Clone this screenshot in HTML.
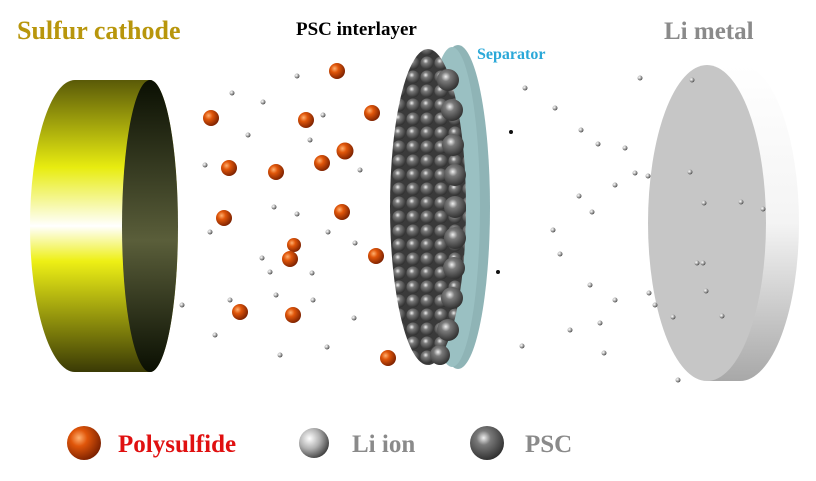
<!DOCTYPE html>
<html><head><meta charset="utf-8"><style>
html,body{margin:0;padding:0;background:#fff;width:816px;height:481px;overflow:hidden}
svg{display:block}
text{font-family:"Liberation Serif",serif;font-weight:bold}
</style></head><body>
<svg width="816" height="481" viewBox="0 0 816 481">
<defs>
<linearGradient id="yel" x1="0" y1="0" x2="0" y2="1">
<stop offset="0" stop-color="#5a5a08"/><stop offset="0.3" stop-color="#e8ec10"/><stop offset="0.5" stop-color="#ffffff"/><stop offset="0.62" stop-color="#eef015"/><stop offset="1" stop-color="#3a3a05"/></linearGradient>
<linearGradient id="dk" x1="0" y1="0" x2="0" y2="1">
<stop offset="0" stop-color="#0a0f02"/><stop offset="0.55" stop-color="#5a5e3a"/><stop offset="1" stop-color="#0a0f02"/></linearGradient>
<linearGradient id="edge" x1="0" y1="0" x2="0" y2="1">
<stop offset="0" stop-color="#ffffff"/><stop offset="0.5" stop-color="#f4f4f4"/><stop offset="1" stop-color="#a8a8a8"/></linearGradient>
<radialGradient id="org" cx="0.35" cy="0.35" r="0.7"><stop offset="0" stop-color="#ffb070"/><stop offset="0.35" stop-color="#e0560a"/><stop offset="1" stop-color="#7a2000"/></radialGradient>
<radialGradient id="gry" cx="0.35" cy="0.35" r="0.7"><stop offset="0" stop-color="#ffffff"/><stop offset="0.5" stop-color="#b0b0b0"/><stop offset="1" stop-color="#404040"/></radialGradient>
<radialGradient id="psc" cx="0.4" cy="0.35" r="0.7"><stop offset="0" stop-color="#f0f0f0"/><stop offset="0.3" stop-color="#7a7a7a"/><stop offset="1" stop-color="#2a2a2a"/></radialGradient>
<pattern id="balls" width="14" height="14" patternUnits="userSpaceOnUse"><rect width="14" height="14" fill="#3a3a3a"/><circle cx="7" cy="7" r="6.5" fill="url(#psc)"/></pattern>
</defs>
<path d="M75,80 L150,80 A28,146 0 0 1 150,372 L75,372 A45,146 0 0 1 75,80 Z" fill="url(#yel)"/>
<ellipse cx="150" cy="226" rx="28" ry="146" fill="url(#dk)"/>
<path d="M707,65 L740,65 A59,158 0 0 1 740,381 L707,381 Z" fill="url(#edge)"/>
<ellipse cx="707" cy="223" rx="59" ry="158" fill="#c6c6c6"/>
<ellipse cx="458" cy="207" rx="32" ry="162" fill="#8fb4b6"/>
<ellipse cx="452" cy="207" rx="28" ry="160" fill="#9ac0c2"/>
<ellipse cx="428" cy="207" rx="38" ry="158" fill="url(#balls)"/>
<g fill="url(#psc)">
<circle cx="448" cy="80" r="11"/><circle cx="452" cy="110" r="11"/><circle cx="453" cy="145" r="11"/><circle cx="455" cy="175" r="11"/><circle cx="455" cy="207" r="11"/><circle cx="455" cy="238" r="11"/><circle cx="454" cy="268" r="11"/><circle cx="452" cy="298" r="11"/><circle cx="448" cy="330" r="11"/><circle cx="440" cy="355" r="10"/>
</g>
<g fill="url(#org)">
<circle cx="337" cy="71" r="8"/><circle cx="211" cy="118" r="8"/><circle cx="306" cy="120" r="8"/><circle cx="372" cy="113" r="8"/><circle cx="229" cy="168" r="8"/><circle cx="322" cy="163" r="8"/><circle cx="345" cy="151" r="8.5"/><circle cx="276" cy="172" r="8"/><circle cx="224" cy="218" r="8"/><circle cx="342" cy="212" r="8"/><circle cx="294" cy="245" r="7"/><circle cx="290" cy="259" r="8"/><circle cx="376" cy="256" r="8"/><circle cx="240" cy="312" r="8"/><circle cx="293" cy="315" r="8"/><circle cx="388" cy="358" r="8"/>
</g>
<g fill="url(#gry)">
<circle cx="232" cy="93" r="2.5"/><circle cx="297" cy="76" r="2.5"/><circle cx="263" cy="102" r="2.5"/><circle cx="323" cy="115" r="2.5"/><circle cx="310" cy="140" r="2.5"/><circle cx="248" cy="135" r="2.5"/><circle cx="205" cy="165" r="2.5"/><circle cx="360" cy="170" r="2.5"/><circle cx="182" cy="305" r="2.5"/><circle cx="274" cy="207" r="2.5"/><circle cx="297" cy="214" r="2.5"/><circle cx="210" cy="232" r="2.5"/><circle cx="355" cy="243" r="2.5"/><circle cx="328" cy="232" r="2.5"/><circle cx="270" cy="272" r="2.5"/><circle cx="276" cy="295" r="2.5"/><circle cx="313" cy="300" r="2.5"/><circle cx="215" cy="335" r="2.5"/><circle cx="230" cy="300" r="2.5"/><circle cx="280" cy="355" r="2.5"/><circle cx="327" cy="347" r="2.5"/><circle cx="354" cy="318" r="2.5"/><circle cx="312" cy="273" r="2.5"/><circle cx="262" cy="258" r="2.5"/>
<circle cx="525" cy="88" r="2.5"/><circle cx="555" cy="108" r="2.5"/><circle cx="581" cy="130" r="2.5"/><circle cx="598" cy="144" r="2.5"/><circle cx="625" cy="148" r="2.5"/><circle cx="615" cy="185" r="2.5"/><circle cx="635" cy="173" r="2.5"/><circle cx="579" cy="196" r="2.5"/><circle cx="592" cy="212" r="2.5"/><circle cx="553" cy="230" r="2.5"/><circle cx="560" cy="254" r="2.5"/><circle cx="590" cy="285" r="2.5"/><circle cx="570" cy="330" r="2.5"/><circle cx="522" cy="346" r="2.5"/><circle cx="604" cy="353" r="2.5"/><circle cx="600" cy="323" r="2.5"/><circle cx="615" cy="300" r="2.5"/><circle cx="640" cy="78" r="2.5"/><circle cx="692" cy="80" r="2.5"/><circle cx="648" cy="176" r="2.5"/><circle cx="690" cy="172" r="2.5"/><circle cx="741" cy="202" r="2.5"/><circle cx="763" cy="209" r="2.5"/><circle cx="704" cy="203" r="2.5"/><circle cx="697" cy="263" r="2.5"/><circle cx="703" cy="263" r="2.5"/><circle cx="706" cy="291" r="2.5"/><circle cx="649" cy="293" r="2.5"/><circle cx="655" cy="305" r="2.5"/><circle cx="673" cy="317" r="2.5"/><circle cx="722" cy="316" r="2.5"/><circle cx="678" cy="380" r="2.5"/>
</g>
<circle cx="511" cy="132" r="2" fill="#111"/><circle cx="498" cy="272" r="2" fill="#111"/>
<text x="17" y="39" font-size="26" fill="#b8960c">Sulfur cathode</text>
<text x="296" y="35" font-size="19" fill="#000">PSC interlayer</text>
<text x="477" y="59" font-size="16" fill="#2aa8d8">Separator</text>
<text x="664" y="39" font-size="25" fill="#8a8a8a">Li metal</text>
<circle cx="84" cy="443" r="17" fill="url(#org)"/>
<text x="118" y="452" font-size="25" fill="#e01010">Polysulfide</text>
<circle cx="314" cy="443" r="15" fill="url(#gry)"/>
<text x="352" y="452" font-size="25" fill="#8a8a8a">Li ion</text>
<circle cx="487" cy="443" r="17" fill="url(#psc)"/>
<text x="525" y="452" font-size="25" fill="#8a8a8a">PSC</text>
</svg>
</body></html>
